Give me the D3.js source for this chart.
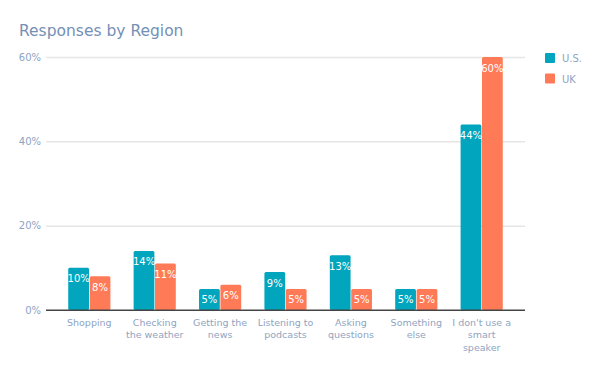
<!DOCTYPE html>
<html>
<head>
<meta charset="utf-8">
<script src="https://cdn.jsdelivr.net/npm/d3@7"></script>
<style>
  body { margin: 0; background: #fff; }
  svg { display: block; font-family: "DejaVu Sans", Verdana, sans-serif; }
</style>
</head>
<body>
<div id="chart"></div>
<script>
// data
var categories = ["Shopping", "Checking<br>the weather", "Getting the<br>news", "Listening to<br>podcasts",
    "Asking<br>questions", "Something<br>else", "I don't use a<br>smart<br>speaker"];
var seriesNames = ["U.S.", "UK"];
var usValues = [10, 14, 5, 9, 13, 5, 44];
var ukValues = [8, 11, 6, 5, 5, 5, 60];
var yTicks = [0, 20, 40, 60];

var colors = ["#01a5bd", "#ff7b57"];
var textColor = "#8fa4c2";

var width = 600, height = 371;
var margin = { top: 57, right: 75, bottom: 61, left: 46 };
var plotW = width - margin.left - margin.right,
    plotH = height - margin.top - margin.bottom;

var svg = d3.select("#chart")
    .append("svg")
    .attr("width", width)
    .attr("height", height);

// title
svg.append("text")
    .attr("x", 19)
    .attr("y", 36)
    .style("font-size", "15.5px")
    .style("fill", "#7590b5")
    .text("Responses by Region");

var g = svg.append("g")
    .attr("transform", "translate(" + margin.left + "," + margin.top + ")");

var x = d3.scaleBand()
    .domain(categories)
    .range([0, plotW])
    .paddingInner(0.355)
    .paddingOuter(0.34);

var xSub = d3.scaleBand()
    .domain(seriesNames)
    .range([0, x.bandwidth()])
    .paddingInner(0.03);

var y = d3.scaleLinear()
    .domain([0, 60])
    .range([plotH, 0]);

// grid + y labels
var yAxis = g.append("g")
    .call(d3.axisLeft(y).tickValues(yTicks).tickSize(-plotW).tickPadding(5)
        .tickFormat(function (d) { return d + "%"; }));
yAxis.select(".domain").remove();
yAxis.selectAll(".tick line")
    .attr("stroke", function (d) { return d === 0 ? "#444" : "#e6e6e6"; })
    .attr("stroke-width", function (d) { return d === 0 ? 1.2 : 1.5; });
yAxis.selectAll(".tick text")
    .attr("x", -5)
    .style("font-size", "10px")
    .style("font-family", "DejaVu Sans, Verdana, sans-serif")
    .style("fill", textColor);

// bars
var rows = categories.map(function (c, i) {
    return { cat: c, vals: [
        { name: seriesNames[0], v: usValues[i], color: colors[0] },
        { name: seriesNames[1], v: ukValues[i], color: colors[1] }
    ] };
});

var groups = g.selectAll(".grp")
    .data(rows)
    .enter()
    .append("g")
    .attr("class", "grp")
    .attr("transform", function (d) { return "translate(" + x(d.cat) + ",0)"; });

groups.selectAll("rect")
    .data(function (d) { return d.vals; })
    .enter()
    .append("rect")
    .attr("x", function (d) { return xSub(d.name); })
    .attr("y", function (d) { return y(d.v); })
    .attr("width", xSub.bandwidth())
    .attr("height", function (d) { return y(0) - y(d.v); })
    .attr("rx", 1.5)
    .attr("fill", function (d) { return d.color; });

groups.selectAll(".val")
    .data(function (d) { return d.vals; })
    .enter()
    .append("text")
    .attr("class", "val")
    .attr("x", function (d) { return xSub(d.name) + xSub.bandwidth() / 2; })
    .attr("y", function (d) { return y(d.v) + 14.5; })
    .attr("text-anchor", "middle")
    .style("font-size", "10px")
    .style("fill", "#fff")
    .text(function (d) { return d.v + "%"; });

// redraw zero line above bars
g.append("line")
    .attr("x1", 0).attr("x2", plotW)
    .attr("y1", y(0)).attr("y2", y(0))
    .attr("stroke", "#444")
    .attr("stroke-width", 1.2);

// category labels
var labels = g.selectAll(".cat")
    .data(categories)
    .enter()
    .append("text")
    .attr("class", "cat")
    .attr("text-anchor", "middle")
    .attr("transform", function (d) { return "translate(" + (x(d) + x.bandwidth() / 2) + "," + (plotH + 15.5) + ")"; })
    .style("font-size", "9.5px")
    .style("fill", textColor);

labels.selectAll("tspan")
    .data(function (d) { return d.split("<br>"); })
    .enter()
    .append("tspan")
    .attr("x", 0)
    .attr("dy", function (d, i) { return i === 0 ? 0 : 12.7; })
    .text(function (d) { return d; });

// legend
var legend = svg.selectAll(".leg")
    .data(seriesNames)
    .enter()
    .append("g")
    .attr("class", "leg")
    .attr("transform", function (d, i) { return "translate(545," + (53 + i * 20.5) + ")"; });

legend.append("rect")
    .attr("width", 10)
    .attr("height", 10)
    .attr("rx", 1)
    .attr("fill", function (d, i) { return colors[i]; });

legend.append("text")
    .attr("x", 17)
    .attr("y", 9)
    .style("font-size", "10px")
    .style("fill", textColor)
    .text(function (d) { return d; });
</script>
</body>
</html>
